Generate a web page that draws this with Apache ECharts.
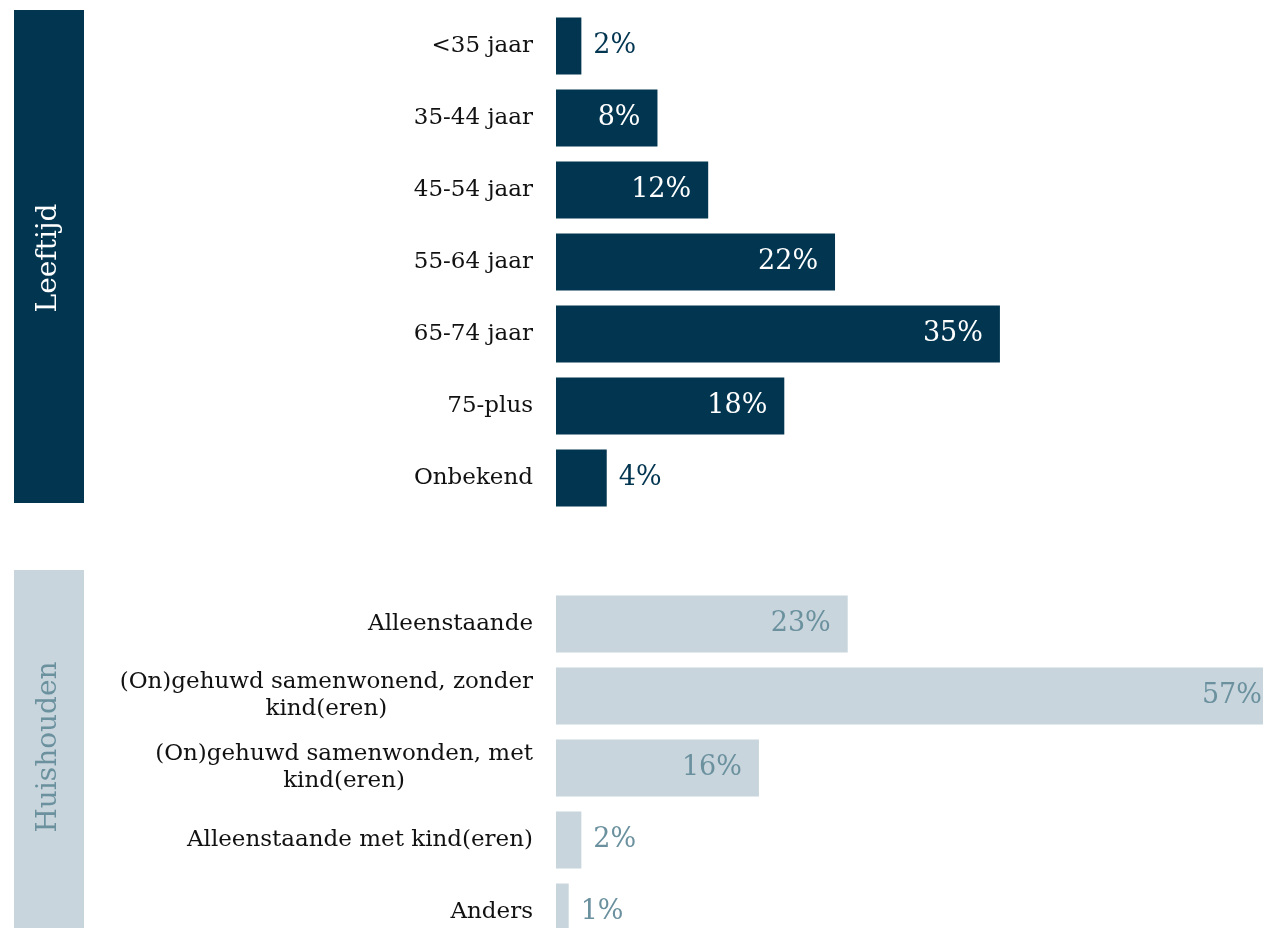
<!DOCTYPE html>
<html>
<head>
<meta charset="utf-8">
<script src="https://cdn.jsdelivr.net/npm/echarts@6/dist/echarts.min.js"></script>
<style>
  html, body { margin: 0; padding: 0; background: #ffffff; }
  #chart { width: 1263px; height: 928px; }
</style>
</head>
<body>
<div id="chart"></div>
<script>
// Age groups (Leeftijd)
const ageCategories = ['<35 jaar', '35-44 jaar', '45-54 jaar', '55-64 jaar', '65-74 jaar', '75-plus', 'Onbekend'];
const ageValues = [2, 8, 12, 22, 35, 18, 4];

// Household types (Huishouden)
const householdCategories = [
  'Alleenstaande',
  '(On)gehuwd samenwonend, zonder\nkind(eren)',
  '(On)gehuwd samenwonden, met\nkind(eren)',
  'Alleenstaande met kind(eren)',
  'Anders'
];
const householdValues = [23, 57, 16, 2, 1];

const DARK = '#023550';
const LIGHT = '#c8d5dc';
const LIGHT_TEXT = '#6b919f';
const SERIF = '"DejaVu Serif", Georgia, serif';
const SMALL_BAR = 5; // bars below this get their label outside

function buildData(values, insideColor, outsideColor) {
  return values.map(v => ({
    value: v,
    label: v < SMALL_BAR
      ? { position: 'right', distance: 12, color: outsideColor }
      : { position: 'insideRight', distance: 17, color: insideColor }
  }));
}

const categoryLabel = {
  margin: 23,
  color: '#111111',
  fontFamily: SERIF,
  fontSize: 23,
  lineHeight: 27,
  formatter: function (v) {
    return v.split('\n').map(l => '{c|' + l + '}').join('\n');
  },
  rich: {
    c: { align: 'center', color: '#111111', fontFamily: SERIF, fontSize: 23, lineHeight: 27 }
  }
};

const valueLabel = {
  show: true,
  fontFamily: SERIF,
  fontSize: 27,
  formatter: '{c}%'
};

const chart = echarts.init(document.getElementById('chart'), null, { renderer: 'canvas' });

chart.setOption({
  animation: false,
  backgroundColor: '#ffffff',
  grid: [
    { left: 556, top: 10, width: 761, height: 504, outerBoundsMode: 'none', containLabel: false },
    { left: 556, top: 588, width: 761, height: 360, outerBoundsMode: 'none', containLabel: false }
  ],
  xAxis: [
    { gridIndex: 0, type: 'value', min: 0, max: 60, show: false },
    { gridIndex: 1, type: 'value', min: 0, max: 60, show: false }
  ],
  yAxis: [
    {
      gridIndex: 0, type: 'category', inverse: true, data: ageCategories,
      axisLine: { show: false }, axisTick: { show: false }, splitLine: { show: false },
      axisLabel: categoryLabel
    },
    {
      gridIndex: 1, type: 'category', inverse: true, data: householdCategories,
      axisLine: { show: false }, axisTick: { show: false }, splitLine: { show: false },
      axisLabel: categoryLabel
    }
  ],
  series: [
    {
      type: 'bar', xAxisIndex: 0, yAxisIndex: 0, barWidth: 57, clip: false,
      itemStyle: { color: DARK },
      label: valueLabel,
      data: buildData(ageValues, '#ffffff', DARK)
    },
    {
      type: 'bar', xAxisIndex: 1, yAxisIndex: 1, barWidth: 57, clip: false,
      itemStyle: { color: LIGHT },
      label: valueLabel,
      data: buildData(householdValues, LIGHT_TEXT, LIGHT_TEXT)
    }
  ],
  graphic: [
    { type: 'rect', shape: { x: 14, y: 10, width: 70, height: 493 }, style: { fill: DARK }, silent: true },
    {
      type: 'text', x: 49, y: 258, rotation: Math.PI / 2,
      style: { text: 'Leeftijd', fill: '#ffffff', font: '28px ' + SERIF, textAlign: 'center', textVerticalAlign: 'middle' },
      silent: true
    },
    { type: 'rect', shape: { x: 14, y: 570, width: 70, height: 358 }, style: { fill: LIGHT }, silent: true },
    {
      type: 'text', x: 49, y: 747, rotation: Math.PI / 2,
      style: { text: 'Huishouden', fill: LIGHT_TEXT, font: '28px ' + SERIF, textAlign: 'center', textVerticalAlign: 'middle' },
      silent: true
    }
  ]
});
</script>
</body>
</html>
